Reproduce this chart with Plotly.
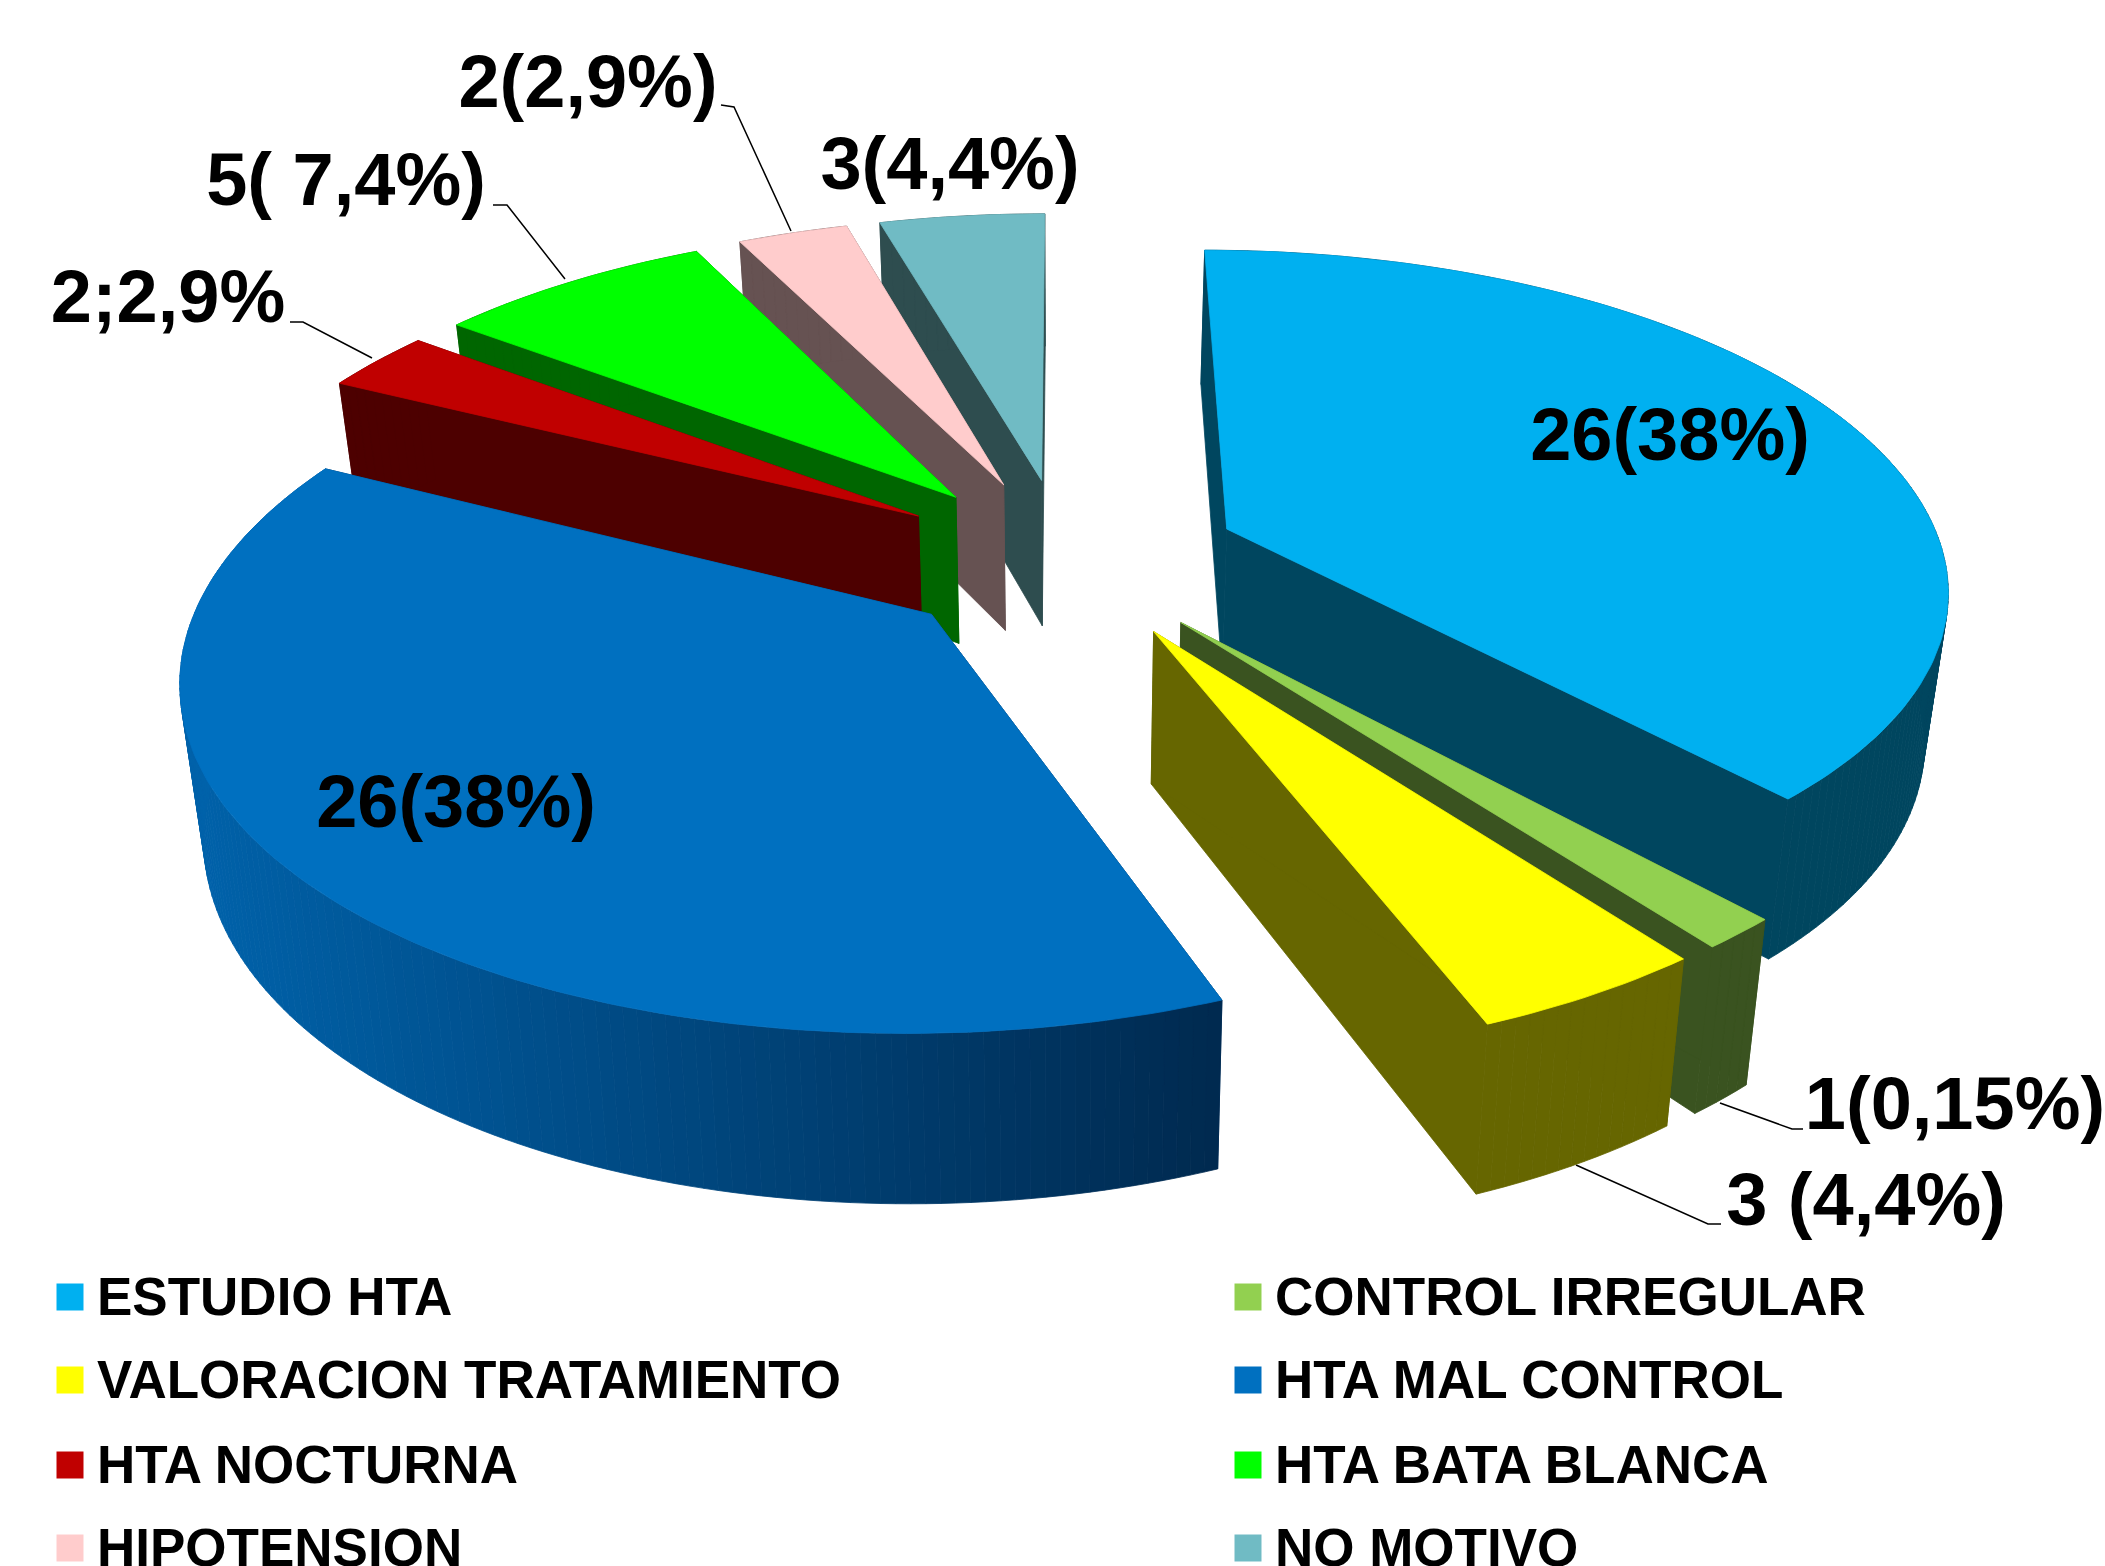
import math
import plotly.graph_objects as go

# ---- data ----
categories = ["ESTUDIO HTA", "CONTROL IRREGULAR", "VALORACION TRATAMIENTO", "HTA MAL CONTROL",
              "HTA NOCTURNA", "HTA BATA BLANCA", "HIPOTENSION", "NO MOTIVO"]
values = [26, 1, 3, 26, 2, 5, 2, 3]
top_colors = ["#00B0F0", "#92D050", "#FFFF00", "#0070C0", "#C00000", "#00FF00", "#FFCCCC", "#70BBC4"]
side_colors = ["#00465F", "#3A5320", "#666600", None, "#4D0000", "#006600", "#665252", "#2E4D4F"]
slice_labels = ["26(38%)", "1(0,15%)", "3 (4,4%)", "26(38%)", "2;2,9%", "5( 7,4%)", "2(2,9%)", "3(4,4%)"]
label_x = [1670, 1955, 1866, 456, 168, 346, 588, 950]
label_y = [441, 1110, 1206, 808, 303, 186, 88, 170]
leader_x = [None, [1720, 1792, 1803], [1576, 1708, 1721], None, [372, 303, 290], [565, 507, 493], [791, 734, 721], None]
leader_y = [None, [1103, 1129, 1129], [1165, 1224, 1224], None, [358, 322, 322], [279, 205, 205], [231, 107, 105], None]

legend_x = [56, 1234]
legend_rows = [1297, 1380, 1465, 1548]

# ---- camera ----
CX, CY, SX, SY, K, DEPTH, BOTTOM_SCALE, EXPLODE = 1065, 558, 718, 332, 0.16, 149, 0.973, 0.245
MAL_LEFT, MAL_RIGHT = (0, 98, 170), (0, 42, 80)


def project(x, y, bottom=False):
    w = 1 + K * y
    px, py = CX + SX * x / w, CY - SY * y / w
    if bottom:
        px = CX + (px - CX) * BOTTOM_SCALE
        py += DEPTH / w ** 0.65
    return px, py


def ring_point(apex, a, bottom=False):
    r = math.radians(a)
    return project(apex[0] + math.sin(r), apex[1] + math.cos(r), bottom)


fig = go.Figure()


def poly(points, color):
    xs = [p[0] for p in points] + [points[0][0]]
    ys = [p[1] for p in points] + [points[0][1]]
    fig.add_trace(go.Scatter(x=xs, y=ys, mode="lines", fill="toself", fillcolor=color,
                             line=dict(color=color, width=0.8), hoverinfo="skip", showlegend=False))


total = sum(values)
start = 0.0
wedges = []
for i, v in enumerate(values):
    end = start + 360.0 * v / total
    wedges.append((i, start, end))
    start = end

# leader lines sit under the slices
for lx, ly in zip(leader_x, leader_y):
    if lx:
        fig.add_trace(go.Scatter(x=lx, y=ly, mode="lines", line=dict(color="black", width=1.5),
                                 hoverinfo="skip", showlegend=False))

# painter order: back slices first
order = [7, 6, 5, 4, 3, 0, 1, 2]
for i in order:
    _, a0, a1 = wedges[i]
    mid = math.radians((a0 + a1) / 2)
    apex = (EXPLODE * math.sin(mid), EXPLODE * math.cos(mid))
    top_apex, bot_apex = project(*apex), project(*apex, True)
    n = max(2, int((a1 - a0) / 1.0))
    angles = [a0 + (a1 - a0) * j / n for j in range(n + 1)]
    side = side_colors[i]
    wall = side or "#00345F"
    # radial walls
    for a in (a1, a0):
        poly([top_apex, ring_point(apex, a), ring_point(apex, a, True), bot_apex], wall)
    # outer rim
    for p, q in zip(angles[:-1], angles[1:]):
        t0, t1 = ring_point(apex, p), ring_point(apex, q)
        b0, b1 = ring_point(apex, p, True), ring_point(apex, q, True)
        if side is None:
            t = min(1, max(0, ((t0[0] + t1[0]) / 2 - 180) / (1215 - 180)))
            rgb = [round(l + (r - l) * t) for l, r in zip(MAL_LEFT, MAL_RIGHT)]
            color = "rgb(%d,%d,%d)" % tuple(rgb)
        else:
            color = side
        poly([t0, t1, b1, b0], color)
    # top face
    poly([top_apex] + [ring_point(apex, a) for a in angles], top_colors[i])

# value labels
fig.add_trace(go.Scatter(x=label_x, y=label_y, mode="text", text=slice_labels,
                         textposition="middle center", hoverinfo="skip", showlegend=False,
                         textfont=dict(family="Liberation Sans", size=74, color="black", weight="bold")))

# two-column legend, read across
for idx, (name, color) in enumerate(zip(categories, top_colors)):
    col, row = idx % 2, idx // 2
    fig.add_trace(go.Scatter(x=[legend_x[col] + 14], y=[legend_rows[row]], mode="markers", hoverinfo="skip",
                             showlegend=False, marker=dict(symbol="square", size=27, color=color)))
    fig.add_trace(go.Scatter(x=[legend_x[col] + 41], y=[legend_rows[row] + 5], mode="text", text=[name],
                             textposition="middle right", hoverinfo="skip", showlegend=False,
                             textfont=dict(family="Liberation Sans", size=53, color="black", weight="bold")))

fig.update_layout(width=2105, height=1566, margin=dict(l=0, r=0, t=0, b=0), autosize=False,
                  paper_bgcolor="white", plot_bgcolor="white", showlegend=False,
                  xaxis=dict(range=[0, 2105], visible=False, fixedrange=True),
                  yaxis=dict(range=[1566, 0], visible=False, fixedrange=True))
fig.write_html("out.html", config={"displayModeBar": False},
               post_script="document.body.style.margin='0';document.body.style.overflow='hidden';")
